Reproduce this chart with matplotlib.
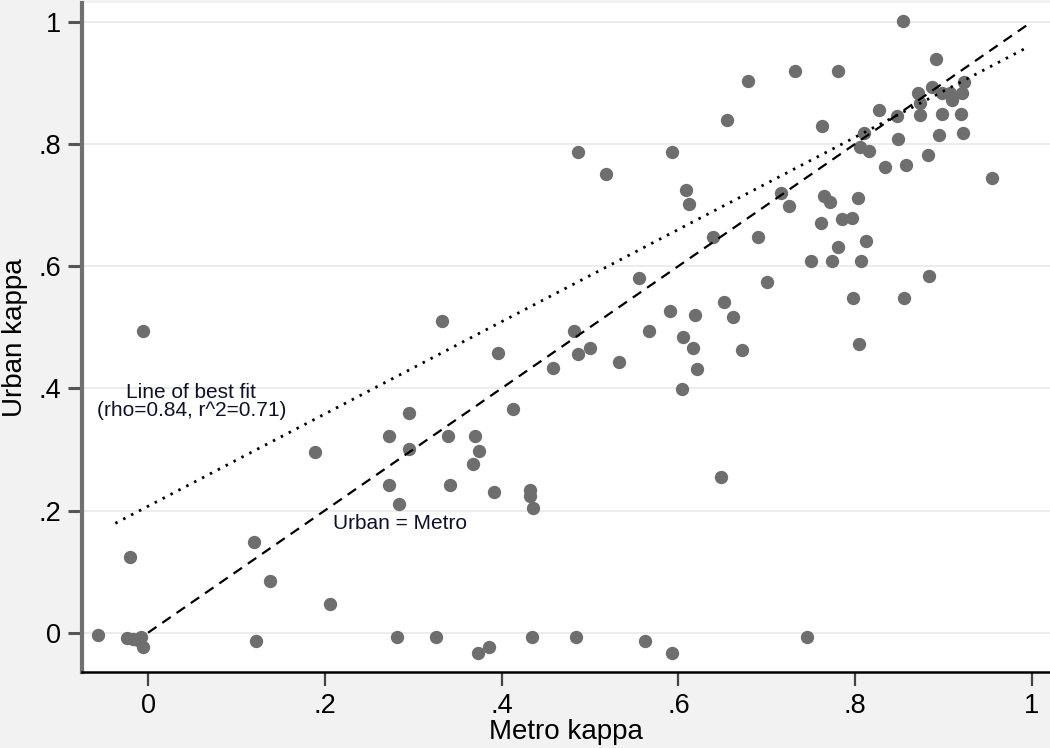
import numpy as np
import matplotlib
matplotlib.use("Agg")
from matplotlib import pyplot as plt

plt.rcParams["font.family"] = ["Liberation Sans", "DejaVu Sans"]

# kappa agreement per item
metro_kappa = [
    -0.057, -0.024, -0.017, -0.011, -0.008, -0.006, 0.122, 0.282, 0.326, 0.373,
    0.386, 0.434, 0.484, 0.562, 0.593, 0.745, -0.020, 0.120, 0.138, 0.206,
    -0.006, 0.189, 0.333, 0.295, 0.273, 0.339, 0.370, 0.295, 0.374, 0.368,
    0.273, 0.342, 0.284, 0.396, 0.413, 0.391, 0.432, 0.432, 0.436, 0.458,
    0.482, 0.486, 0.500, 0.533, 0.555, 0.590, 0.567, 0.619, 0.605, 0.617,
    0.621, 0.604, 0.648, 0.672, 0.652, 0.662, 0.700, 0.639, 0.690, 0.486,
    0.593, 0.518, 0.655, 0.762, 0.609, 0.612, 0.716, 0.725, 0.765, 0.771,
    0.803, 0.761, 0.785, 0.796, 0.812, 0.781, 0.750, 0.774, 0.807, 0.798,
    0.855, 0.883, 0.804, 0.810, 0.805, 0.816, 0.834, 0.732, 0.781, 0.679,
    0.854, 0.891, 0.827, 0.847, 0.848, 0.857, 0.882, 0.955, 0.871, 0.887,
    0.873, 0.873, 0.898, 0.907, 0.921, 0.909, 0.923, 0.898, 0.920, 0.895,
    0.922,
]
urban_kappa = [
    -0.004, -0.009, -0.010, -0.012, -0.007, -0.023, -0.014, -0.007, -0.007, -0.033,
    -0.023, -0.007, -0.007, -0.014, -0.033, -0.007, 0.124, 0.148, 0.085, 0.047,
    0.494, 0.296, 0.510, 0.360, 0.322, 0.322, 0.322, 0.300, 0.298, 0.276,
    0.241, 0.241, 0.210, 0.457, 0.366, 0.231, 0.233, 0.224, 0.204, 0.433,
    0.494, 0.456, 0.466, 0.443, 0.581, 0.526, 0.494, 0.520, 0.484, 0.466,
    0.432, 0.399, 0.255, 0.463, 0.541, 0.517, 0.574, 0.648, 0.648, 0.786,
    0.786, 0.751, 0.839, 0.829, 0.725, 0.702, 0.720, 0.699, 0.715, 0.705,
    0.712, 0.670, 0.677, 0.679, 0.641, 0.631, 0.608, 0.608, 0.608, 0.548,
    0.548, 0.584, 0.473, 0.818, 0.795, 0.789, 0.762, 0.919, 0.919, 0.903,
    1.001, 0.939, 0.856, 0.846, 0.808, 0.765, 0.782, 0.744, 0.883, 0.893,
    0.867, 0.847, 0.884, 0.884, 0.883, 0.872, 0.901, 0.849, 0.849, 0.814,
    0.818,
]

# line of best fit as drawn
fit_intercept = 0.207
fit_slope = 0.755
fit_x = [-0.037, 0.996]
diag_x = [0.0, 1.0]

ticks = [0, 0.2, 0.4, 0.6, 0.8, 1.0]
tick_labels = ["0", ".2", ".4", ".6", ".8", "1"]

fig = plt.figure(figsize=(10.5, 7.48), dpi=100, facecolor="#f2f2f2")
ax = fig.add_axes([82 / 1050, 76 / 748, 968 / 1050, 669 / 748])
ax.set_facecolor("white")

ax.set_xlim(-0.0747, 1.0204)
ax.set_ylim(-0.0643, 1.0306)

for t in ticks:
    ax.axhline(t, color="#eaeaea", lw=1.3, zorder=0)

ax.plot(metro_kappa, urban_kappa, "o", color="#6e6e6e", ms=9.6, mec="none", zorder=2)

fx = np.array(fit_x)
ax.plot(fx, fit_intercept + fit_slope * fx, color="black", lw=2.0,
        linestyle=(0, (0.9, 2.3)), zorder=3)
ax.plot(diag_x, diag_x, color="black", lw=1.6, linestyle=(0, (4.6, 3.2)), zorder=3)

ax.text(0.049, 0.378, "Line of best fit\n(rho=0.84, r^2=0.71)", ha="center", va="center",
        fontsize=15, color="#10102a", linespacing=0.95)
ax.text(0.285, 0.178, "Urban = Metro", ha="center", va="center", fontsize=15,
        color="#10102a")

ax.set_xticks(ticks)
ax.set_xticklabels(tick_labels)
ax.set_yticks(ticks)
ax.set_yticklabels(tick_labels)
ax.tick_params(axis="x", length=10, width=1.6, color="#444444", pad=5, labelsize=19.5)
ax.tick_params(axis="y", length=10, width=2.2, color="#555555", pad=5, labelsize=19.5)

for s in ["top", "right"]:
    ax.spines[s].set_visible(False)
ax.spines["left"].set_color("#707070")
ax.spines["left"].set_linewidth(3)
ax.spines["bottom"].set_color("black")
ax.spines["bottom"].set_linewidth(1.8)

ax.set_xlabel("Metro kappa", fontsize=20)
ax.set_ylabel("Urban kappa", fontsize=20)
ax.xaxis.set_label_coords(0.5, -0.09)
ax.yaxis.set_label_coords(-0.069, 0.5)
ax.xaxis.label.set_va("center")
ax.yaxis.label.set_va("center")

fig.savefig("out.png", dpi=100, facecolor=fig.get_facecolor())
